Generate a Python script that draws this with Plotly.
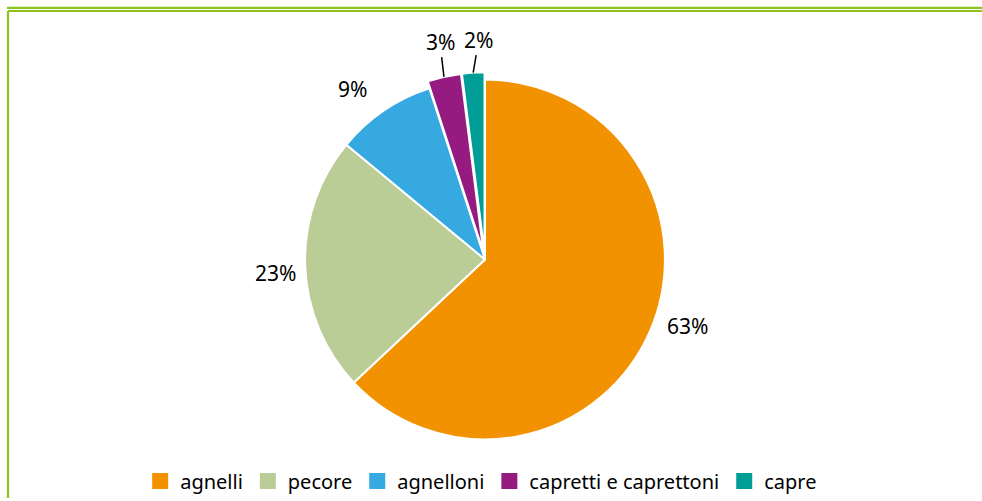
import math
import plotly.graph_objects as go

categories = ["agnelli", "pecore", "agnelloni", "capretti e caprettoni", "capre"]
shares = [63, 23, 9, 3, 2]

# style
colors = ["#F39200", "#BBCD96", "#36A9E1", "#951B81", "#009E96"]
pulls = [0, 0, 0, 0.04, 0.04]
label_dist = [213, 210, 217, 224, 221]          # px from centre
label_nudge = [(7, -18), (0, 7), (-11, 8), (4, 0), (7, 0)]  # px (right, down)
leader = [False, False, False, True, True]

W, H = 982, 501
cx_px, cy_px, R_px = 485, 261, 181
half = R_px * (1 + max(pulls))
yc = 1 - cy_px / H
xc = cx_px / W


def px2paper(x, y):
    return x / W, 1 - y / H


fig = go.Figure()
fig.add_trace(go.Pie(
    labels=categories,
    values=shares,
    sort=False,
    direction="clockwise",
    rotation=0,
    pull=pulls,
    marker=dict(colors=colors, line=dict(color="white", width=2)),
    textinfo="none",
    hoverinfo="label+percent",
    showlegend=False,
    domain=dict(x=[xc - 0.3, xc + 0.3], y=[yc - half / H, yc + half / H]),
))

# legend entries (square swatches)
for name, col in zip(categories, colors):
    fig.add_trace(go.Scatter(
        x=[None], y=[None], mode="markers", name=name,
        marker=dict(symbol="square", size=16, color=col),
        hoverinfo="skip",
    ))

total = sum(shares)
annotations = []
shapes = []
cum = 0
for i, v in enumerate(shares):
    mid = (cum + v / 2) / total * 2 * math.pi
    cum += v
    s, c = math.sin(mid), math.cos(mid)
    lx = cx_px + label_dist[i] * s + label_nudge[i][0]
    ly = cy_px - label_dist[i] * c + label_nudge[i][1]
    ax, ay = px2paper(lx, ly)
    annotations.append(dict(
        x=ax, y=ay, xref="paper", yref="paper", showarrow=False,
        text=f"{round(v / total * 100)}%",
        font=dict(family="Noto Sans", size=21, color="#000000"),
        xanchor="center", yanchor="middle",
    ))
    if leader[i]:
        re = R_px * (1 + pulls[i])
        ex, ey = cx_px + re * s, cy_px - re * c
        tx, ty = ex + 0.6 * (lx - ex), ly + 15
        x0, y0 = px2paper(ex, ey)
        x1, y1 = px2paper(tx, ty)
        shapes.append(dict(type="line", xref="paper", yref="paper", x0=x0, y0=y0, x1=x1, y1=y1,
                           line=dict(color="#000000", width=1.5)))

green = "#8CC31E"
shapes += [
    dict(type="line", xref="paper", yref="paper", x0=7 / W, x1=1, y0=1 - 8 / H, y1=1 - 8 / H,
         line=dict(color=green, width=2.2)),
    dict(type="line", xref="paper", yref="paper", x0=8 / W, x1=1, y0=1 - 11 / H, y1=1 - 11 / H,
         line=dict(color=green, width=2)),
    dict(type="line", xref="paper", yref="paper", x0=8 / W, x1=8 / W, y0=0, y1=1 - 11 / H,
         line=dict(color=green, width=2.2)),
]

fig.update_layout(
    width=W, height=H,
    margin=dict(l=0, r=0, t=0, b=0),
    paper_bgcolor="white",
    plot_bgcolor="white",
    xaxis=dict(visible=False),
    yaxis=dict(visible=False),
    font=dict(family="Noto Sans", size=20, color="#000000"),
    legend=dict(orientation="h", x=0.49, xanchor="center", y=1 - 484 / H, yanchor="middle",
                itemwidth=30, font=dict(size=20), traceorder="normal"),
    annotations=annotations,
    shapes=shapes,
)

fig.write_html("out.html", config={"displayModeBar": False},
               post_script="document.body.style.margin='0';")
